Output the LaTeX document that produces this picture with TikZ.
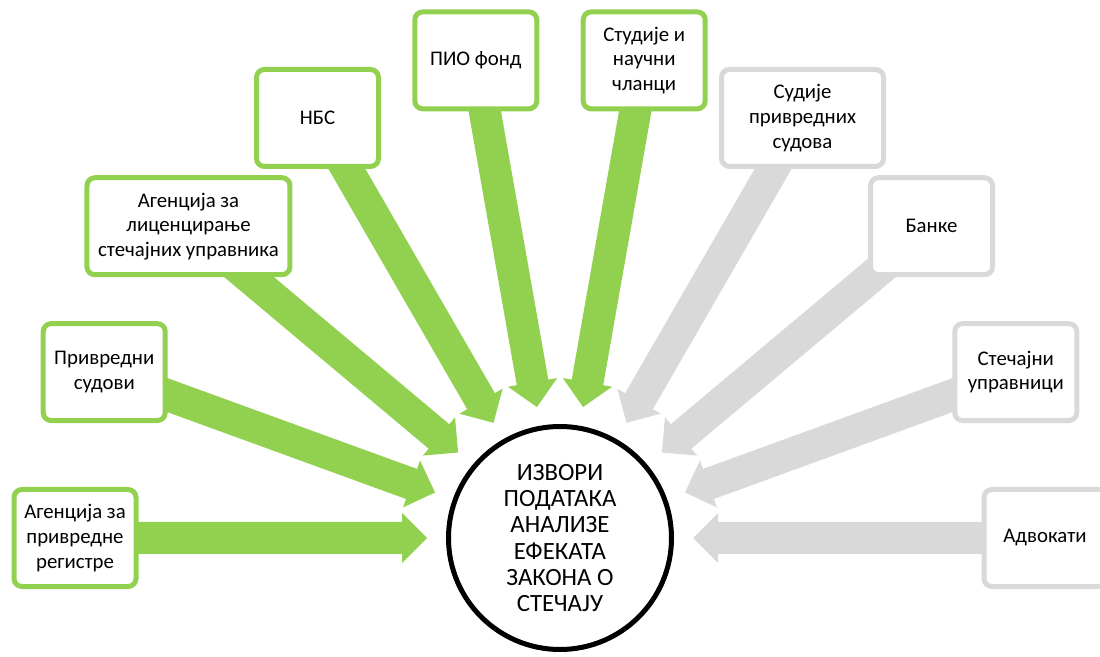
\documentclass[tikz,border=0pt]{standalone}
\usepackage{fontspec}
\setmainfont{Carlito}
\usetikzlibrary{calc,backgrounds}

\definecolor{srcgreen}{RGB}{146,208,80}
\definecolor{srcgray}{RGB}{217,217,217}

\begin{document}
\begin{tikzpicture}[x=1pt, y=1pt,
    source/.style={rectangle, rounded corners=8pt, fill=white, line width=5pt,
      minimum height=97pt, align=center, inner sep=2pt,
      font=\fontsize{20.8}{24.6}\selectfont},
    hub/.style={circle, draw=black, fill=white, line width=5pt, minimum size=223pt,
      inner sep=0pt, align=center, font=\fontsize{24.8}{26.3}\selectfont}]

  \useasboundingbox (0,0) rectangle (1100,656);
  \clip (0,0) rectangle (1100,656);

  \node[hub] (hub) at (560,118) {ИЗВОРИ\\ПОДАТАКА\\АНАЛИЗЕ\\ЕФЕКАТА\\ЗАКОНА О\\СТЕЧАЈУ};

  \foreach \ang/\nm/\col/\bw/\txt in {
      180/reg/srcgreen/122/{Агенција за\\привредне\\регистре},
      160/sud/srcgreen/122/{Привредни\\судови},
      140/lic/srcgreen/203/{Агенција за\\лиценцирање\\стечајних управника},
      120/nbs/srcgreen/122/{НБС},
      100/pio/srcgreen/122/{ПИО фонд},
      80/stu/srcgreen/122/{Студије и\\научни\\чланци},
      60/sdj/srcgray/162/{Судије\\привредних\\судова},
      40/ban/srcgray/122/{Банке},
      20/ste/srcgray/122/{Стечајни\\управници},
      0/adv/srcgray/122/{Адвокати}}
  {
    \coordinate (tip-\nm) at ($(hub.center)+(\ang:133)$);
    \node[source, draw=\col, minimum width=\bw] (\nm) at ($(hub.center)+(\ang:485)$) {\txt};
    \begin{pgfonlayer}{background}
      \fill[\col] let \p1 = ($(tip-\nm)-(\nm)$), \n1 = {atan2(\y1,\x1)} in
        ($(\nm)+(\n1+90:16)$) -- ($(tip-\nm)+(\n1+180:25)+(\n1+90:16)$)
        -- ($(tip-\nm)+(\n1+180:25)+(\n1+90:25)$) -- (tip-\nm)
        -- ($(tip-\nm)+(\n1+180:25)+(\n1-90:25)$) -- ($(tip-\nm)+(\n1+180:25)+(\n1-90:16)$)
        -- ($(\nm)+(\n1-90:16)$) -- cycle;
    \end{pgfonlayer}
  }
\end{tikzpicture}
\end{document}
